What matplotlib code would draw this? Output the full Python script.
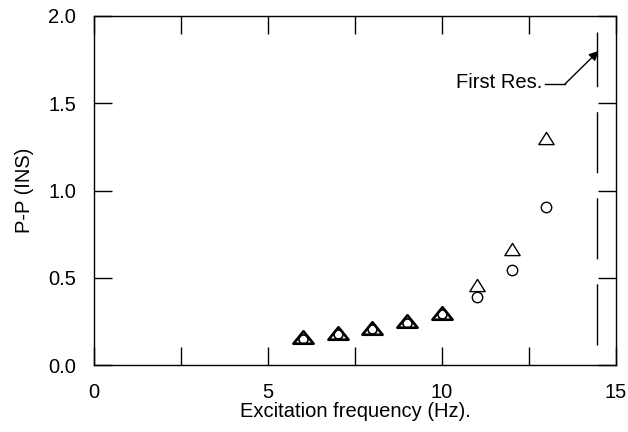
import matplotlib
matplotlib.use("Agg")
import matplotlib.pyplot as plt
from matplotlib.ticker import MultipleLocator, FormatStrFormatter
from matplotlib.path import Path

plt.rcParams['font.family'] = ['Liberation Sans', 'DejaVu Sans']

freq = [6, 7, 8, 9, 10, 11, 12, 13]
tri_vals = [0.16, 0.185, 0.215, 0.25, 0.30, 0.46, 0.665, 1.30]
circ_vals = [0.15, 0.175, 0.205, 0.24, 0.29, 0.39, 0.545, 0.905]
bold_count = 5
res_freq = 14.45
res_span = [0.115, 1.91]

FS = 14.5

flat_tri = Path([(-1, -0.62), (1, -0.62), (0, 0.62), (-1, -0.62)],
                [Path.MOVETO, Path.LINETO, Path.LINETO, Path.CLOSEPOLY])
thin_tri = Path([(-1, -0.8), (1, -0.8), (0, 0.8), (-1, -0.8)],
                [Path.MOVETO, Path.LINETO, Path.LINETO, Path.CLOSEPOLY])

fig = plt.figure(figsize=(6.28, 4.32), dpi=100)
ax = fig.add_axes([0.1497, 0.155, 0.8313, 0.808])

ax.plot(freq[:bold_count], tri_vals[:bold_count], linestyle='none', marker=flat_tri,
        ms=14.5, mfc='none', mec='black', mew=1.9)
ax.plot(freq[bold_count:], tri_vals[bold_count:], linestyle='none', marker=thin_tri,
        ms=11, mfc='none', mec='black', mew=1.0)
ax.plot(freq[:bold_count], circ_vals[:bold_count], linestyle='none', marker='o',
        ms=6.5, mfc='none', mec='black', mew=1.2, zorder=3)
ax.plot(freq[bold_count:], circ_vals[bold_count:], linestyle='none', marker='o',
        ms=7.5, mfc='none', mec='black', mew=1.0, zorder=3)

ax.plot([res_freq, res_freq], res_span, color='black', lw=1.0,
        dashes=(44, 18))

ax.annotate('', xy=(14.5, 1.80), xytext=(13.53, 1.61),
            arrowprops=dict(arrowstyle='-|>', color='black', lw=1.0,
                            mutation_scale=14, shrinkA=0, shrinkB=0))
ax.plot([12.96, 13.53], [1.61, 1.61], color='black', lw=1.0)
ax.text(12.88, 1.587, 'First Res.', ha='right', va='baseline', fontsize=FS)

ax.set_xlim(0, 15)
ax.set_ylim(0, 2.0)
ax.xaxis.set_major_locator(MultipleLocator(5))
ax.xaxis.set_minor_locator(MultipleLocator(2.5))
ax.yaxis.set_major_locator(MultipleLocator(0.5))
ax.yaxis.set_major_formatter(FormatStrFormatter('%.1f'))
ax.tick_params(which='both', direction='in', length=13, width=1.0,
               top=True, right=True, labelsize=FS)
ax.tick_params(axis='x', pad=13)
ax.tick_params(axis='y', pad=13)

ax.set_xlabel('Excitation frequency (Hz).', fontsize=FS, labelpad=0)
ax.set_ylabel('P-P (INS)', fontsize=FS, labelpad=10)
for s in ax.spines.values():
    s.set_linewidth(1.0)

fig.savefig('out.png', dpi=100)
